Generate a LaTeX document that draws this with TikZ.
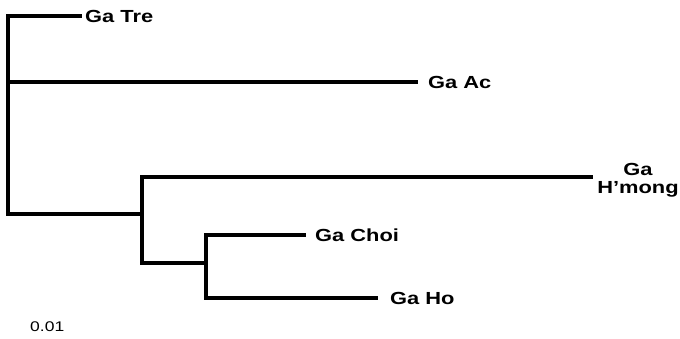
\documentclass[tikz,border=0pt]{standalone}
\usepackage{fontspec}
\newfontfamily\hoja[FakeStretch=1.25]{Liberation Sans}
\usetikzlibrary{positioning,calc}

\begin{document}
\begin{tikzpicture}[
    x=1pt, y=-1pt,
    rama/.style={line width=3.4pt},
    etiqueta/.style={anchor=west, inner sep=0pt,
                     font=\hoja\bfseries\fontsize{17.5}{18}\selectfont},
    escala/.style={anchor=west, inner sep=0pt,
                   font=\hoja\fontsize{14}{16}\selectfont}
]
\useasboundingbox (0,0) rectangle (680,339);

% hojas
\node[etiqueta] (tre)   at (85,16)   {Ga Tre};
\node[etiqueta] (ac)    at (428,82)  {Ga Ac};
\node[etiqueta, anchor=center, align=center] (hmong) at (638,180) {Ga\\H’mong};
\node[etiqueta] (choi)  at (315,235) {Ga Choi};
\node[etiqueta] (ho)    at (390,298) {Ga Ho};

\node[escala] (esc) at (30,327) {0.01};

% nodos internos
\coordinate (raiz) at (8,115);
\coordinate (n1)   at (142,214);
\coordinate (n2)   at (206,263);

\draw[rama] (raiz) |- ([xshift=-3pt]tre.west);
\draw[rama] (raiz) |- ([xshift=-10pt]ac.west);
\draw[rama] (raiz) |- (n1);

\draw[rama] (n1) |- ([xshift=-4pt,yshift=3pt]hmong.west);
\draw[rama] (n1) |- (n2);

\draw[rama] (n2) |- ([xshift=-9pt]choi.west);
\draw[rama] (n2) |- ([xshift=-12pt]ho.west);

\end{tikzpicture}
\end{document}
